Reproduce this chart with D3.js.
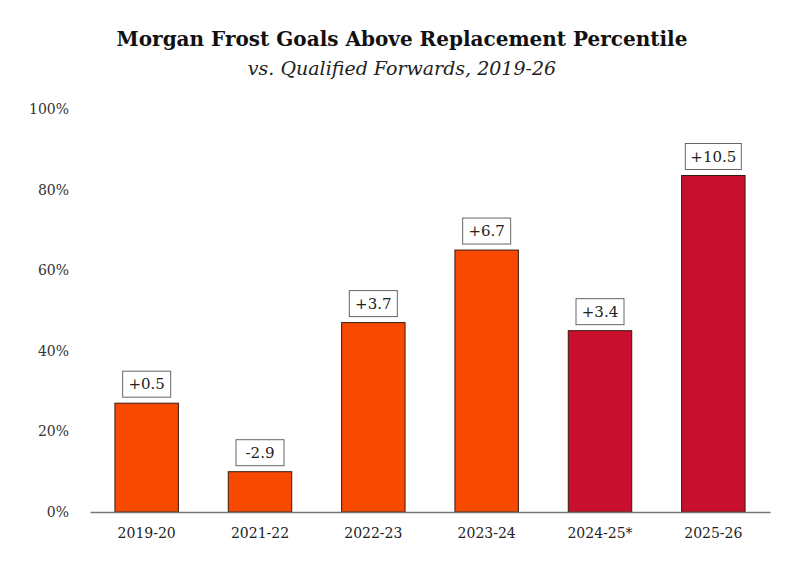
<!DOCTYPE html>
<html><head><meta charset="utf-8">
<script src="https://cdn.jsdelivr.net/npm/d3@7"></script>
<style>body{margin:0;background:#fff}svg{display:block}</style>
</head><body><div id="chart"></div>
<script>
// chart data
const seasons = ["2019-20", "2021-22", "2022-23", "2023-24", "2024-25*", "2025-26"];
const percentiles = [27, 10, 47, 65, 45, 83.5];
const garLabels = ["+0.5", "-2.9", "+3.7", "+6.7", "+3.4", "+10.5"];
const highlighted = [false, false, false, false, true, true];
const yTicks = [0, 20, 40, 60, 80, 100];

const W = 800, H = 567;
const margin = { top: 109, right: 30, bottom: 55, left: 90 };
const font = "'Palatino Linotype','Book Antiqua',Palatino,'DejaVu Serif',serif";

const svg = d3.select("#chart").append("svg")
    .attr("width", W).attr("height", H)
    .style("font-family", font);

const x = d3.scaleBand()
    .domain(seasons)
    .range([margin.left, W - margin.right])
    .paddingInner(0.44).paddingOuter(0.22);

const y = d3.scaleLinear()
    .domain([0, 100])
    .range([H - margin.bottom, margin.top]);

// titles
svg.append("text").attr("x", 402).attr("y", 46).attr("text-anchor", "middle")
    .attr("font-size", 20).attr("font-weight", "bold").attr("fill", "#111")
    .text("Morgan Frost Goals Above Replacement Percentile");
svg.append("text").attr("x", 402).attr("y", 75).attr("text-anchor", "middle")
    .attr("font-size", 19).attr("font-style", "italic").attr("fill", "#222")
    .text("vs. Qualified  Forwards, 2019-26");

// y axis labels
const yAxis = svg.append("g")
    .attr("transform", "translate(" + (margin.left - 18) + ",0)")
    .call(d3.axisLeft(y).tickValues(yTicks).tickFormat(d => d + "%").tickSize(0));
yAxis.select(".domain").remove();
yAxis.selectAll("text").attr("font-family", font).attr("font-size", 14).attr("fill", "#333");

// bars
svg.selectAll(".bar")
  .data(seasons)
  .enter().append("rect")
    .attr("class", "bar")
    .attr("x", d => x(d))
    .attr("width", x.bandwidth())
    .attr("y", (d, i) => y(percentiles[i]))
    .attr("height", (d, i) => y(0) - y(percentiles[i]))
    .attr("fill", (d, i) => highlighted[i] ? "#c8102e" : "#f74a00")
    .attr("stroke", "#3a1a10").attr("stroke-width", 1);

// baseline + x labels
const xAxis = svg.append("g")
    .attr("transform", "translate(0," + y(0) + ")")
    .call(d3.axisBottom(x).tickSize(0).tickPadding(16));
xAxis.select(".domain").attr("stroke", "#777").attr("stroke-width", 1.5);
xAxis.selectAll("text").attr("font-family", font).attr("font-size", 14).attr("fill", "#222");

// value labels in boxes
const lab = svg.selectAll(".lab")
  .data(seasons)
  .enter().append("g")
    .attr("transform", (d, i) => "translate(" + (x(d) + x.bandwidth() / 2) + "," + (y(percentiles[i]) - 19) + ")");
lab.append("rect")
    .attr("x", (d, i) => -(garLabels[i].length * 8 + 16) / 2)
    .attr("width", (d, i) => garLabels[i].length * 8 + 16)
    .attr("y", -13).attr("height", 26)
    .attr("fill", "#fff").attr("stroke", "#666").attr("stroke-width", 1);
lab.append("text")
    .attr("text-anchor", "middle").attr("dy", "0.35em")
    .attr("font-size", 15).attr("fill", "#222")
    .text((d, i) => garLabels[i]);
</script>
</body></html>
